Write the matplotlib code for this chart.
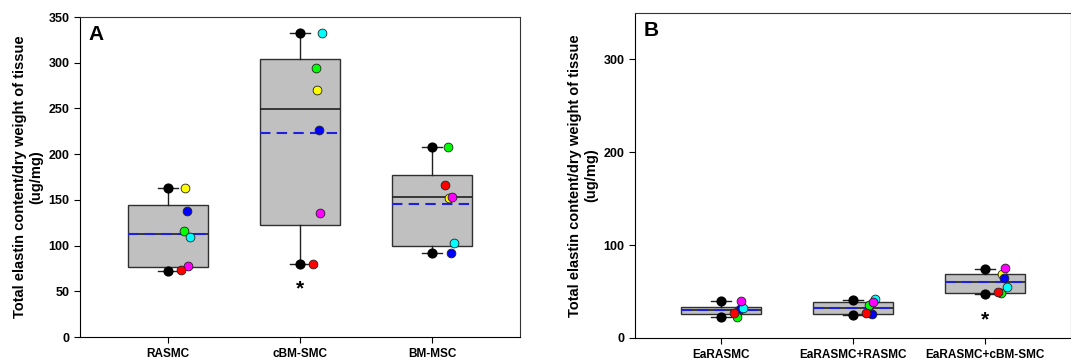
import matplotlib
matplotlib.use("Agg")
import matplotlib.pyplot as plt

plt.rcParams['font.family'] = ['Liberation Sans', 'DejaVu Sans']
plt.rcParams['font.weight'] = 'bold'

# raw points, one per colour (yellow, blue, green, cyan, magenta, red)
dot_colors = ["#ffff00", "#0000ff", "#00ff00", "#00ffff", "#ff00ff", "#ff0000"]
dot_shift = [0.13, 0.145, 0.12, 0.165, 0.15, 0.10]

groups_A = ["RASMC", "cBM-SMC", "BM-MSC"]
points_A = [
    [163, 138, 116, 109, 78, 73],
    [270.5, 226, 294, 333, 136, 80],
    [152, 92, 208, 102.5, 153.5, 166],
]
q1_A = [77, 122, 100]
med_A = [112.5, 249, 153]
q3_A = [144, 304, 177]
lo_A = [72.5, 80, 92]
hi_A = [163, 333, 208]
mean_A = [112.8, 223, 146]

groups_B = ["EaRASMC", "EaRASMC+RASMC", "EaRASMC+cBM-SMC"]
points_B = [
    [29, 31, 22.5, 32.6, 39.5, 26.5],
    [27, 25.5, 35.5, 41.5, 39, 26.5],
    [68.5, 65, 48.7, 55, 75, 50],
]
q1_B = [25.5, 25.5, 48]
med_B = [30, 32, 60]
q3_B = [33.7, 39, 68.8]
lo_B = [22.5, 24.5, 47]
hi_B = [39.5, 41, 74]
mean_B = [30.2, 32.3, 60.4]

star_A = [(2, 53)]
star_B = [(3, 20)]

ylabel = "Total elastin content/dry weight of tissue\n(ug/mg)"


def draw_panel(ax, groups, points, q1, med, q3, lo, hi, mean, stars, letter):
    pos = range(1, len(groups) + 1)
    stats = []
    for i in range(len(groups)):
        stats.append(dict(q1=q1[i], med=med[i], q3=q3[i], whislo=lo[i],
                          whishi=hi[i], mean=mean[i], fliers=[]))
    ax.bxp(stats, positions=list(pos), widths=0.6, patch_artist=True,
           showmeans=True, meanline=True,
           boxprops=dict(facecolor="#c0c0c0", edgecolor="#303030", linewidth=1.0),
           medianprops=dict(color="#202020", linewidth=1.2),
           meanprops=dict(color="#1f1fe0", linestyle=(0, (5, 3)), linewidth=1.5),
           whiskerprops=dict(color="#202020", linewidth=1.0),
           capprops=dict(color="#202020", linewidth=1.0), capwidths=0.15)
    for i, p in enumerate(pos):
        ax.scatter([p, p], [lo[i], hi[i]], s=40, color="black", zorder=4)
        for j, v in enumerate(points[i]):
            ax.scatter(p + dot_shift[j], v, s=40, color=dot_colors[j],
                       edgecolor="#222222", linewidth=0.6, zorder=5)
    for x, y in stars:
        ax.text(x, y, "*", ha="center", va="center", fontsize=15, fontweight="bold")
    ax.set_xticks(list(pos))
    ax.set_xticklabels(groups, fontsize=8.5, fontweight="bold")
    ax.tick_params(axis="both", direction="out", length=4, labelsize=9)
    ax.tick_params(axis="x", pad=4, labelsize=8.5)
    ax.set_ylabel(ylabel, fontsize=10.5, fontweight="bold", labelpad=4)
    ax.text(0.02, 0.975, letter, transform=ax.transAxes, fontsize=15,
            fontweight="bold", va="top", ha="left")
    for sp in ["top", "right"]:
        ax.spines[sp].set_linewidth(0.8)
        ax.spines[sp].set_color("#333333")


fig = plt.figure(figsize=(10.71, 3.6), dpi=100)
axA = fig.add_axes([80 / 1071, 1 - 337 / 360, 440 / 1071, 320 / 360])
axB = fig.add_axes([635 / 1071, 1 - 338 / 360, 436 / 1071, 325 / 360])

draw_panel(axA, groups_A, points_A, q1_A, med_A, q3_A, lo_A, hi_A, mean_A, star_A, "A")
axA.set_ylim(0, 350)
axA.set_yticks(range(0, 351, 50))
axA.set_xlim(0.333, 3.667)

draw_panel(axB, groups_B, points_B, q1_B, med_B, q3_B, lo_B, hi_B, mean_B, star_B, "B")
axB.set_ylim(0, 350)
axB.set_yticks(range(0, 301, 100))
axB.set_xlim(0.35, 3.65)

for lab in axA.get_yticklabels() + axB.get_yticklabels():
    lab.set_fontweight("bold")

fig.savefig("out.png", dpi=100)
